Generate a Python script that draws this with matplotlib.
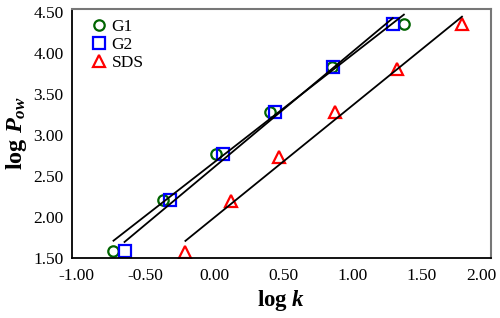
import numpy as np
import matplotlib
matplotlib.use("Agg")
import matplotlib.pyplot as plt
import matplotlib.transforms as mtransforms

g1_x = [-0.73, -0.37, 0.01, 0.40, 0.85, 1.37]
g1_y = [1.59, 2.21, 2.77, 3.28, 3.83, 4.36]
g2_x = [-0.65, -0.32, 0.06, 0.44, 0.86, 1.29]
g2_y = [1.59, 2.21, 2.77, 3.28, 3.83, 4.36]
sds_x = [-0.21, 0.12, 0.47, 0.87, 1.32, 1.79]
sds_y = [1.57, 2.20, 2.74, 3.28, 3.81, 4.35]
x_ticks = [-1.0, -0.5, 0.0, 0.5, 1.0, 1.5, 2.0]
y_ticks = [1.5, 2.0, 2.5, 3.0, 3.5, 4.0, 4.5]

plt.rcParams['font.family'] = ['Liberation Serif', 'DejaVu Serif']
plt.rcParams['mathtext.fontset'] = 'custom'
plt.rcParams['mathtext.rm'] = 'Liberation Serif'
plt.rcParams['mathtext.it'] = 'Liberation Serif:italic:bold'
plt.rcParams['mathtext.bf'] = 'Liberation Serif:bold'

fig = plt.figure(figsize=(5.0, 3.18), dpi=100)
ax = fig.add_axes([0.144, 0.188, 0.838, 0.784])

series = [
    (g1_x, g1_y, 'o', '#006400', 7.5, 'G1'),
    (g2_x, g2_y, 's', '#0000FF', 8.0, 'G2'),
    (sds_x, sds_y, '^', '#FF0000', 9.0, 'SDS'),
]
for xs, ys, m, c, ms, lab in series:
    xs = np.array(xs); ys = np.array(ys)
    k, b = np.polyfit(xs, ys, 1)
    xl = np.array([xs.min(), xs.max()])
    ax.plot(xl, k * xl + b, color='black', lw=1.3, zorder=3)
    ax.plot(xs, ys, linestyle='none', marker=m, ms=ms, mfc='none',
            mec=c, mew=1.6, label=lab, zorder=2)

ax.set_xlim(-1.03, 2.0)
ax.set_ylim(1.5, 4.54)
ax.set_xticks(x_ticks)
ax.set_yticks(y_ticks)
ax.set_xticklabels([f"{v:.2f}" for v in x_ticks])
ax.set_yticklabels([f"{v:.2f}" for v in y_ticks])
ax.tick_params(length=0, labelsize=12.5, pad=7)
ax.tick_params(axis='y', pad=6)

# shift last x tick label left so it stays inside the figure
last = ax.get_xticklabels()[-1]
last.set_transform(last.get_transform() +
                   mtransforms.ScaledTranslation(-10 / 100, 0, fig.dpi_scale_trans))

for s in ['top', 'right']:
    ax.spines[s].set_color('#777777')
    ax.spines[s].set_linewidth(1.5)
for s in ['left', 'bottom']:
    ax.spines[s].set_color('black')
    ax.spines[s].set_linewidth(1.3)

ax.set_xlabel(r'log $\mathit{k}$', fontsize=16.5, fontweight='bold', labelpad=3)
ax.set_ylabel(r'log $\mathit{P}_{\mathit{ow}}$', fontsize=17.5, fontweight='bold', labelpad=3)

leg = ax.legend(loc='upper left', frameon=False, fontsize=12.5,
                handlelength=0.9, handletextpad=0.3, labelspacing=0.1,
                borderaxespad=0.2, bbox_to_anchor=(0.02, 1.0))

fig.savefig('out.png', dpi=100)
